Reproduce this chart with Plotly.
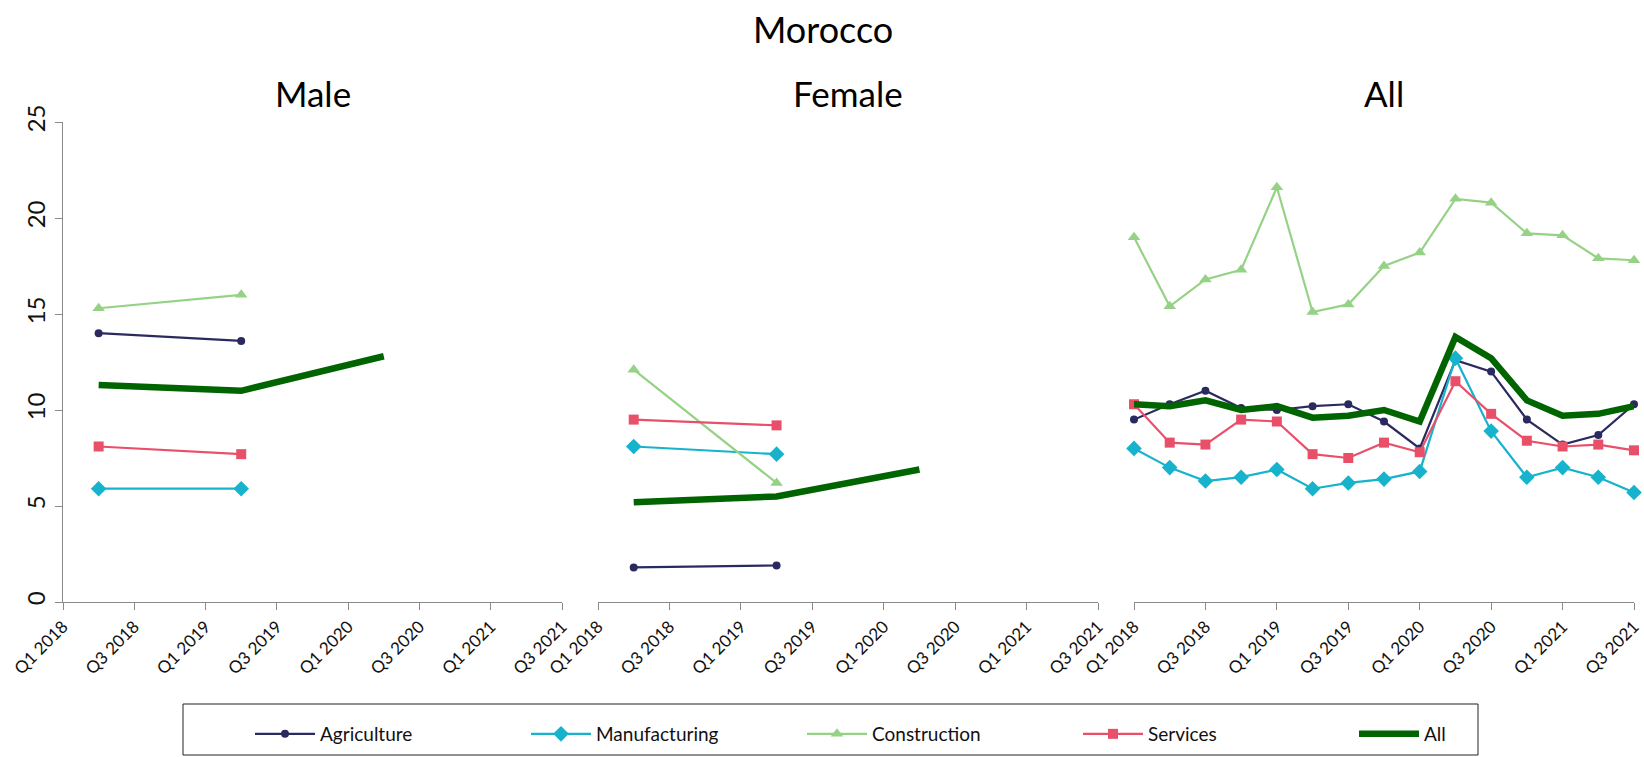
import plotly.graph_objects as go

# quarters on the x axis
quarters = ["Q1 2018", "Q2 2018", "Q3 2018", "Q4 2018",
            "Q1 2019", "Q2 2019", "Q3 2019", "Q4 2019",
            "Q1 2020", "Q2 2020", "Q3 2020", "Q4 2020",
            "Q1 2021", "Q2 2021", "Q3 2021"]
tick_labels = quarters[::2]

# Male / Female: survey rounds only
sex_quarters = ["Q2 2018", "Q2 2019"]
sex_all_quarters = ["Q2 2018", "Q2 2019", "Q2 2020"]

male_agri = [14.0, 13.6]
male_manu = [5.9, 5.9]
male_cons = [15.3, 16.0]
male_serv = [8.1, 7.7]
male_all = [11.3, 11.0, 12.8]

female_agri = [1.8, 1.9]
female_manu = [8.1, 7.7]
female_cons = [12.1, 6.2]
female_serv = [9.5, 9.2]
female_all = [5.2, 5.5, 6.9]

# All: every quarter
all_agri = [9.5, 10.3, 11.0, 10.1, 10.0, 10.2, 10.3, 9.4, 8.0, 12.6, 12.0, 9.5, 8.2, 8.7, 10.3]
all_manu = [8.0, 7.0, 6.3, 6.5, 6.9, 5.9, 6.2, 6.4, 6.8, 12.7, 8.9, 6.5, 7.0, 6.5, 5.7]
all_cons = [19.0, 15.4, 16.8, 17.3, 21.6, 15.1, 15.5, 17.5, 18.2, 21.0, 20.8, 19.2, 19.1, 17.9, 17.8]
all_serv = [10.3, 8.3, 8.2, 9.5, 9.4, 7.7, 7.5, 8.3, 7.8, 11.5, 9.8, 8.4, 8.1, 8.2, 7.9]
all_all = [10.3, 10.2, 10.5, 10.0, 10.2, 9.6, 9.7, 10.0, 9.4, 13.8, 12.7, 10.5, 9.7, 9.8, 10.2]

SERIES = [
    ("Agriculture", "#2b2a5f", dict(symbol="circle", size=8)),
    ("Manufacturing", "#17b3cc", dict(symbol="diamond", size=12)),
    ("Construction", "#96d285", dict(symbol="triangle-up", size=11)),
    ("Services", "#e8506a", dict(symbol="square", size=10)),
]
ALL_CLR = "#006400"
FONT = "Lato, 'Open Sans', sans-serif"

panels = [
    ("Male", sex_quarters, sex_all_quarters, [male_agri, male_manu, male_cons, male_serv], male_all),
    ("Female", sex_quarters, sex_all_quarters, [female_agri, female_manu, female_cons, female_serv], female_all),
    ("All", quarters, quarters, [all_agri, all_manu, all_cons, all_serv], all_all),
]

W, H = 1644, 757
x_px = [(63, 562), (598, 1098), (1134, 1634)]
y_px = (122, 602)

fig = go.Figure()
annotations = []
for i, (title, xq, xq_all, vals, tot) in enumerate(panels):
    n = "" if i == 0 else str(i + 1)
    last = i == 2
    for (name, clr, mk), v in zip(SERIES, vals):
        fig.add_trace(go.Scatter(
            x=xq, y=v, name=name, legendgroup=name, showlegend=last,
            mode="lines+markers", cliponaxis=False,
            line=dict(color=clr, width=2.2),
            marker=dict(color=clr, **mk),
            xaxis="x" + n, yaxis="y" + n,
        ))
    fig.add_trace(go.Scatter(
        x=xq_all, y=tot, name="All", legendgroup="All", showlegend=last,
        mode="lines", cliponaxis=False,
        line=dict(color=ALL_CLR, width=6.5),
        xaxis="x" + n, yaxis="y" + n,
    ))

    dom = [x_px[i][0] / W, x_px[i][1] / W]
    fig.layout["xaxis" + n] = dict(
        domain=dom, type="category", categoryorder="array", categoryarray=quarters,
        range=[0, len(quarters) - 1], tickmode="array", tickvals=tick_labels,
        ticktext=tick_labels, tickangle=-45, ticks="outside", ticklen=7,
        tickcolor="#8a8a8a", showline=True, linecolor="#8a8a8a", linewidth=1,
        showgrid=False, zeroline=False, tickfont=dict(size=17, color="#111"),
        anchor="y" + n, fixedrange=True, automargin=False,
    )
    fig.layout["yaxis" + n] = dict(
        domain=[(H - y_px[1]) / H, (H - y_px[0]) / H], range=[0, 25],
        tickvals=[0, 5, 10, 15, 20, 25], showgrid=False, zeroline=False,
        showline=(i == 0), linecolor="#8a8a8a", linewidth=1,
        ticks="outside" if i == 0 else "", ticklen=7, tickcolor="#8a8a8a",
        showticklabels=(i == 0), tickangle=-90,
        tickfont=dict(size=24, color="#111"),
        anchor="x" + n, fixedrange=True, automargin=False,
    )
    annotations.append(dict(
        text=title, x=(dom[0] + dom[1]) / 2, y=(H - 93) / H,
        xref="paper", yref="paper", showarrow=False,
        font=dict(size=35, color="#000"), xanchor="center", yanchor="middle",
    ))

annotations.append(dict(
    text="Morocco", x=823 / W, y=(H - 29) / H, xref="paper", yref="paper",
    showarrow=False, font=dict(size=36, color="#000"),
    xanchor="center", yanchor="middle",
))

# legend frame (the legend's own border hugs the entries too tightly)
legend_box = dict(
    type="rect", xref="paper", yref="paper",
    x0=183 / W, x1=1478 / W, y0=(H - 755) / H, y1=(H - 704) / H,
    line=dict(color="#222", width=1), fillcolor="rgba(0,0,0,0)", layer="below",
)

fig.update_layout(
    width=W, height=H,
    paper_bgcolor="white", plot_bgcolor="white",
    font=dict(family=FONT, color="#111"),
    margin=dict(l=0, r=0, t=0, b=0, autoexpand=False),
    annotations=annotations,
    shapes=[legend_box],
    showlegend=True,
    legend=dict(
        orientation="h", x=250 / W, xanchor="left", y=(H - 734) / H, yanchor="middle",
        borderwidth=0, bgcolor="rgba(0,0,0,0)",
        font=dict(size=19, color="#111"), entrywidth=201, itemwidth=60,
    ),
)

# page body margin would push the 1644x757 figure off the window
fig.write_html("out.html", config={"displayModeBar": False},
               post_script="document.body.style.margin='0';")
